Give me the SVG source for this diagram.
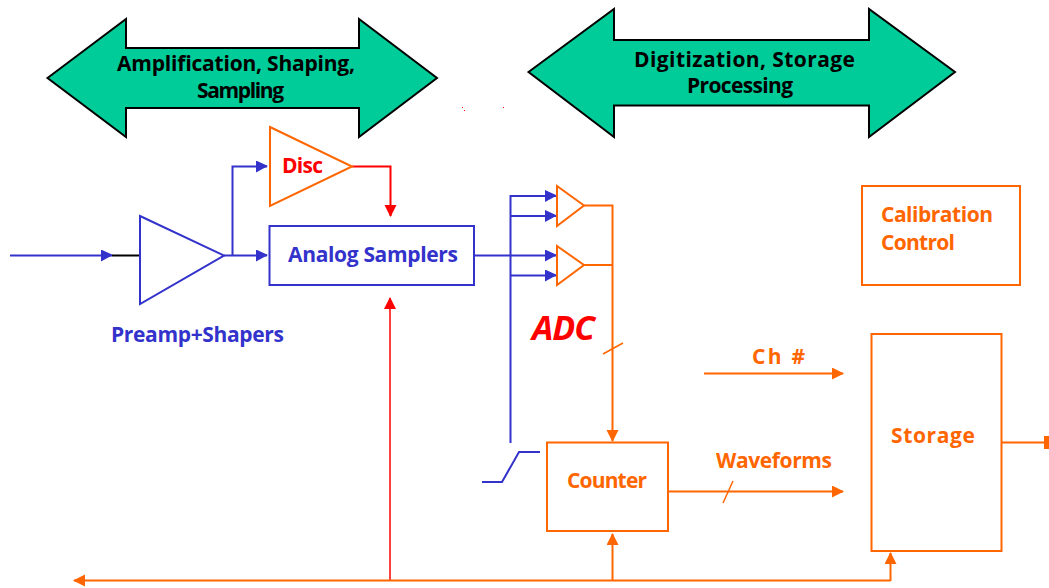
<svg xmlns="http://www.w3.org/2000/svg" width="1049" height="588" viewBox="0 0 1049 588">
<defs>
<marker id="ab" markerUnits="userSpaceOnUse" markerWidth="14" markerHeight="14" refX="11" refY="6" orient="auto"><path d="M0,0L12,5.500L0,12Z" fill="#3333cc"/></marker>
<marker id="ar" markerUnits="userSpaceOnUse" markerWidth="14" markerHeight="14" refX="11" refY="6" orient="auto"><path d="M0,0L12,6L0,12Z" fill="#ff0000"/></marker>
<marker id="ao" markerUnits="userSpaceOnUse" markerWidth="14" markerHeight="14" refX="11" refY="6" orient="auto"><path d="M0,0L12,6L0,12Z" fill="#ff6600"/></marker>
</defs>
<style>
.t{font-family:"Open Sans","DejaVu Sans",sans-serif;font-weight:700;font-size:21px}
.k{fill:#000}.b{fill:#3333cc}.r{fill:#ff0000}.o{fill:#ff6600}
.sb,.so,.sr,.sk{fill:none;stroke-width:2}
.sb{stroke:#3333cc}.so{stroke:#ff6600}.sr{stroke:#ff0000}.sk{stroke:#000}
.thin{stroke-width:1.500}
.arrow{fill:#00cc99;stroke:#000;stroke-width:2}
.box{fill:#fff;stroke-width:2}
</style>
<rect width="1049" height="588" fill="#fff"/>
<g id="connectors">
<path class="sb" d="M10 255.500H112" marker-end="url(#ab)"/>
<path class="sk" d="M112 255.500H140"/>
<path class="sb" d="M224 255.500H267" marker-end="url(#ab)"/>
<path class="sb" d="M232.500 255V166.500H267" marker-end="url(#ab)"/>
<path class="sr" d="M352 166.500H390.500V216" marker-end="url(#ar)"/>
<path class="sr thin" d="M390 581V298" marker-end="url(#ar)"/>
<path class="sb" d="M474 255.500H556" marker-end="url(#ab)"/>
<path class="sb" d="M510.500 443V196H556" marker-end="url(#ab)"/>
<path class="sb" d="M510 216H556" marker-end="url(#ab)"/>
<path class="sb" d="M510 275.500H556" marker-end="url(#ab)"/>
<path class="so" d="M584 205.500H612.500V441" marker-end="url(#ao)"/>
<path class="so" d="M584 265H612.500"/>
<path class="so thin" d="M603 354L623 343"/>
<path class="sb" d="M482 482H502L519 452H540"/>
<path class="so" d="M704 373.500H843" marker-end="url(#ao)"/>
<path class="so" d="M668 491.500H843" marker-end="url(#ao)"/>
<path class="so thin" d="M723 503L733 481"/>
<path class="so" d="M890.500 580.500H74" marker-end="url(#ao)"/>
<path class="so" d="M890.500 581V553" marker-end="url(#ao)"/>
<path class="so" d="M612.500 581V534" marker-end="url(#ao)"/>
<path class="so" d="M1002 442.500H1049"/>
<path d="M1044 436h5v13h-5z" fill="#ff6600"/>
</g>
<g id="arrow-analog"><path class="arrow" d="M47.500 78L126 19V48H359V19L437 78L359 137V108H126V137Z"/><text class="t k" x="117" y="71" textLength="238">Amplification, Shaping,</text><text class="t k" x="197" y="98" textLength="87">Sampling</text></g>
<g id="arrow-digital"><path class="arrow" d="M528.500 72L614 9V40H869V9L955 72L869 137V105.500H614V137Z"/><text class="t k" x="634" y="67" textLength="221">Digitization, Storage</text><text class="t k" x="687" y="93" textLength="106">Processing</text></g>
<g id="preamp"><path class="box sb thin" d="M140 216L224 255.500L140 304Z"/><text class="t b" x="111" y="342" textLength="173">Preamp+Shapers</text></g>
<g id="disc"><path class="box so thin" d="M270 127L352 166.500L270 206Z"/><text class="t r" x="282" y="173" textLength="41">Disc</text></g>
<g id="samplers"><rect class="box sb" x="269.500" y="226" width="204.500" height="59"/><text class="t b" x="288" y="262" textLength="170">Analog Samplers</text></g>
<g id="adc1"><path class="box so thin" d="M557 186L584 205.500L557 226Z"/></g>
<g id="adc2"><path class="box so thin" d="M557 246L584 265L557 285Z"/></g>
<g id="adc-label"><text class="t r" x="532" y="340" textLength="63" style="font-size:34px;font-style:italic">ADC</text></g>
<g id="counter"><rect class="box so" x="547" y="442.500" width="121" height="88.500"/><text class="t o" x="567" y="488" textLength="80">Counter</text></g>
<g id="calibration"><rect class="box so" x="862" y="186" width="158" height="99"/><text class="t o" x="881" y="222" textLength="112">Calibration</text><text class="t o" x="881" y="250" textLength="74">Control</text></g>
<g id="storage"><rect class="box so" x="871.500" y="334" width="130" height="217"/><text class="t o" x="891" y="443" textLength="84">Storage</text></g>
<g id="labels"><text class="t o" x="752" y="364" textLength="53">Ch #</text><text class="t o" x="716" y="468" textLength="116">Waveforms</text></g>
<path d="M462 107h1v1h-1zM464 110h1v1h-1zM503 107h1v1h-1z" fill="#ff0000"/>
</svg>
